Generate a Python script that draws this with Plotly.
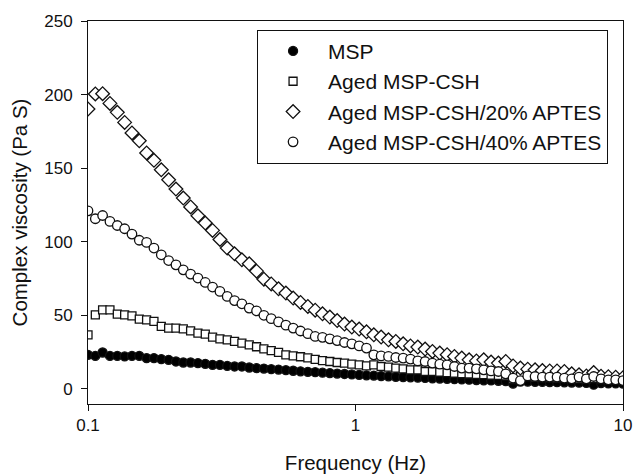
import plotly.graph_objects as go

freq = [0.1, 0.1065, 0.1134, 0.1208, 0.1287, 0.1371, 0.146, 0.1555, 0.1656, 0.1764,
        0.1879, 0.2002, 0.2132, 0.2271, 0.2419, 0.2576, 0.2744, 0.2922, 0.3113, 0.3315,
        0.3531, 0.3761, 0.4006, 0.4267, 0.4545, 0.4841, 0.5156, 0.5492, 0.5849, 0.623,
        0.6636, 0.7068, 0.7528, 0.8019, 0.8541, 0.9097, 0.9689, 1.0321, 1.0993, 1.1708,
        1.2471, 1.3283, 1.4148, 1.5069, 1.605, 1.7096, 1.8209, 1.9394, 2.0657, 2.2002,
        2.3435, 2.4961, 2.6587, 2.8318, 3.0162, 3.2126, 3.4218, 3.6446, 3.8819, 4.1347,
        4.4039, 4.6907, 4.9961, 5.3215, 5.668, 6.037, 6.4301, 6.8488, 7.2948, 7.7698,
        8.2757, 8.8147, 9.3886, 10.0]

msp = [23.1, 22.4, 24.7, 22.4, 22.4, 22.0, 22.4, 22.4, 20.9, 20.9,
       20.2, 19.7, 18.6, 17.9, 17.9, 17.5, 17.0, 16.3, 16.3, 15.6,
       15.2, 15.2, 14.5, 14.1, 13.8, 13.4, 13.1, 12.7, 12.3, 11.9,
       11.6, 11.3, 11.0, 10.7, 10.4, 10.1, 9.8, 9.5, 9.2, 9.0,
       8.7, 8.5, 8.2, 8.0, 7.8, 7.6, 7.4, 7.2, 7.0, 6.8,
       6.6, 6.4, 6.2, 6.0, 5.8, 5.7, 5.5, 5.3, 3.5, 5.0,
       4.9, 4.8, 4.7, 4.6, 4.5, 4.4, 4.3, 4.2, 4.0, 2.8,
       3.9, 3.8, 3.7, 3.6]

aged_csh = [36.7, 50.3, 53.7, 53.7, 50.8, 50.3, 49.6, 47.4, 46.9, 45.8,
            42.4, 41.3, 41.3, 40.8, 39.4, 37.9, 37.2, 35.2, 34.0, 33.3,
            32.2, 31.1, 29.9, 28.6, 27.1, 26.0, 24.8, 23.1, 22.4, 21.8,
            21.1, 20.0, 19.2, 18.6, 17.9, 17.5, 16.8, 16.3, 15.6, 16.3,
            15.2, 14.8, 14.1, 13.6, 12.9, 12.9, 11.8, 11.8, 11.4, 11.0,
            10.7, 10.4, 10.1, 9.8, 9.6, 9.3, 9.1, 8.8, 6.2, 8.3,
            8.1, 7.9, 7.7, 7.5, 7.3, 7.1, 6.9, 6.8, 6.6, 6.9,
            6.3, 6.2, 6.0, 5.9]

aptes20 = [190.2, 200.4, 200.6, 194.0, 187.9, 181.1, 173.9, 168.6, 160.3, 155.3,
           148.9, 142.1, 135.8, 129.7, 123.6, 117.6, 112.7, 107.7, 101.5, 95.7,
           91.8, 87.7, 85.0, 80.0, 74.5, 71.3, 68.0, 65.1, 61.7, 58.7,
           56.0, 53.5, 51.0, 48.8, 46.4, 44.0, 42.0, 40.6, 38.8, 36.7,
           35.2, 33.3, 32.2, 30.6, 29.2, 28.4, 27.0, 25.4, 24.3, 23.2,
           22.0, 20.9, 19.7, 19.0, 19.7, 18.2, 17.5, 18.6, 15.6, 14.1,
           13.4, 12.9, 12.4, 12.2, 12.2, 11.8, 10.2, 9.5, 8.8, 11.1,
           8.6, 8.3, 7.9, 7.6]

aptes40 = [121.0, 115.6, 117.8, 113.8, 111.0, 108.8, 105.2, 101.0, 99.5, 95.7,
           91.1, 87.2, 84.3, 80.9, 78.0, 75.3, 72.3, 69.2, 66.2, 62.8,
           60.0, 57.8, 54.9, 53.0, 50.0, 47.7, 45.5, 43.3, 41.3, 39.3,
           37.5, 35.6, 35.0, 34.0, 32.8, 31.5, 30.6, 29.2, 27.7, 23.1,
           22.4, 22.0, 21.3, 20.9, 20.2, 19.0, 18.6, 17.5, 16.8, 16.3,
           15.2, 14.1, 14.1, 13.6, 12.9, 12.2, 11.8, 10.2, 7.3, 5.6,
           8.8, 8.4, 8.0, 8.0, 8.0, 7.3, 6.8, 8.0, 6.8, 8.4,
           6.8, 6.1, 6.1, 5.6]

names = ["MSP", "Aged MSP-CSH", "Aged MSP-CSH/20% APTES", "Aged MSP-CSH/40% APTES"]
x_ticks = [0.1, 1, 10]
x_ticktext = ["0.1", "1", "10"]
y_ticks = [0, 50, 100, 150, 200, 250]

series = [
    (names[0], msp, "circle", 9, "#000000"),
    (names[1], aged_csh, "square", 8, "#ffffff"),
    (names[2], aptes20, "diamond", 10.5, "#ffffff"),
    (names[3], aptes40, "circle", 9.5, "#ffffff"),
]

fig = go.Figure()
for name, vals, sym, size, fill in series:
    fig.add_trace(go.Scatter(
        x=freq, y=vals, mode="markers", name=name,
        marker=dict(symbol=sym, size=size, color=fill,
                    line=dict(color="#111111", width=1.3)),
    ))

font_family = "Liberation Sans, Arial, sans-serif"
fig.update_layout(
    width=634, height=474,
    margin=dict(l=88, r=11, t=21, b=70),
    paper_bgcolor="white", plot_bgcolor="white",
    font=dict(family=font_family, color="#111111", size=17),
    showlegend=True,
    legend=dict(
        x=0.316, y=0.977, xanchor="left", yanchor="top",
        bordercolor="#111111", borderwidth=1, bgcolor="white",
        font=dict(size=21, family=font_family, color="#111111"),
        itemwidth=60,
    ),
    xaxis=dict(
        type="log", range=[-1, 1], automargin=False,
        tickvals=x_ticks, ticktext=x_ticktext,
        ticks="outside", ticklen=6, tickcolor="#111111",
        ticklabelstandoff=0,
        showline=True, linecolor="#111111", linewidth=1, mirror=True,
        showgrid=False, zeroline=False,
        tickfont=dict(size=17),
        title=dict(text="Frequency (Hz)", font=dict(size=20.5), standoff=21),
    ),
    yaxis=dict(
        range=[-10.3, 250], automargin=False,
        tickvals=y_ticks,
        ticks="outside", ticklen=6, tickcolor="#111111",
        ticklabelstandoff=5,
        showline=True, linecolor="#111111", linewidth=1, mirror=True,
        showgrid=False, zeroline=False,
        tickfont=dict(size=17),
        title=dict(text="Complex viscosity (Pa S)", font=dict(size=20.5), standoff=11),
    ),
)

fig.write_html("out.html")
